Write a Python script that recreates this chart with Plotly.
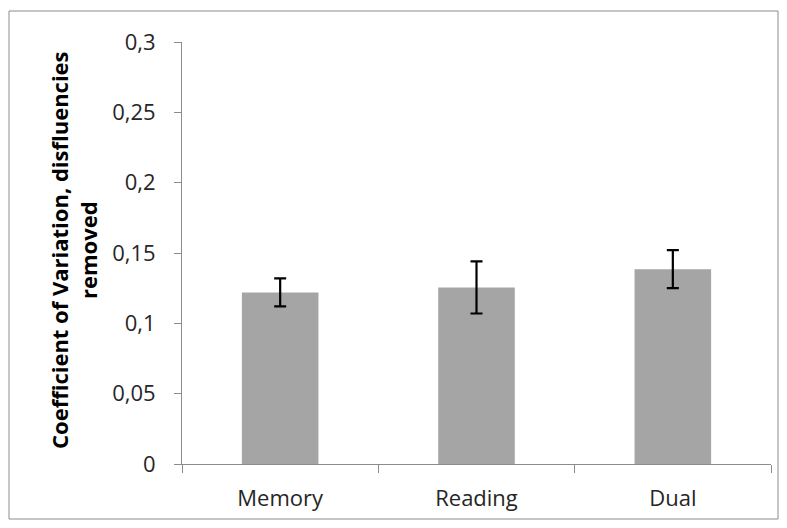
import plotly.graph_objects as go

categories = ["Memory", "Reading", "Dual"]
values = [0.122, 0.1255, 0.1385]
errors = [0.010, 0.0185, 0.0135]
ytick_vals = [0, 0.05, 0.1, 0.15, 0.2, 0.25, 0.3]
ytick_text = ["0", "0,05", "0,1", "0,15", "0,2", "0,25", "0,3"]
y_title = "Coefficient of Variation, disfluencies<br>removed"

fig = go.Figure(go.Bar(
    x=categories, y=values,
    marker=dict(color="#a5a5a5", line=dict(width=0)),
    error_y=dict(type="data", array=errors, color="black", thickness=2.2, width=6),
    width=0.39,
))

# page is rendered with an 8px body margin; work in figure coordinates
OFF = 8
W, H = 787 - 2 * OFF, 528 - 2 * OFF
l, r, t, b = 182 - OFF, W - (771 - OFF), 42 - OFF, H - (464 - OFF)
pw, ph = W - l - r, H - t - b

def px(xr):
    return (xr - OFF - l) / pw

def py(yr):
    return (H - b - (yr - OFF)) / ph

fig.update_layout(
    width=W, height=H,
    margin=dict(l=l, r=r, t=t, b=b),
    plot_bgcolor="white", paper_bgcolor="white",
    font=dict(family="Open Sans, sans-serif", size=22, color="#262626"),
    showlegend=False,
    xaxis=dict(
        showline=True, linecolor="#8c8c8c", linewidth=1,
        ticks="outside", tickson="boundaries", ticklen=8, tickcolor="#8c8c8c",
        showgrid=False, tickfont=dict(size=22), ticklabelstandoff=15,
        range=[-0.5, 2.5],
    ),
    yaxis=dict(
        range=[0, 0.3], tickvals=ytick_vals, ticktext=ytick_text,
        showline=True, linecolor="#8c8c8c", linewidth=1,
        ticks="outside", ticklen=7, tickcolor="#8c8c8c",
        showgrid=False, zeroline=False, tickfont=dict(size=22),
        ticklabelstandoff=14,
    ),
    annotations=[dict(
        text="<b>" + y_title.replace("<br>", "</b><br><b>") + "</b>",
        xref="paper", yref="paper",
        x=px(73), y=py(250),
        xanchor="center", yanchor="middle",
        textangle=-90, showarrow=False,
        font=dict(size=22, color="#000000"),
    )],
    shapes=[dict(
        type="rect", xref="paper", yref="paper",
        x0=px(9), x1=px(778),
        y0=py(519), y1=py(11),
        line=dict(color="#8c8c8c", width=1),
    )],
)

fig.write_html("out.html")
